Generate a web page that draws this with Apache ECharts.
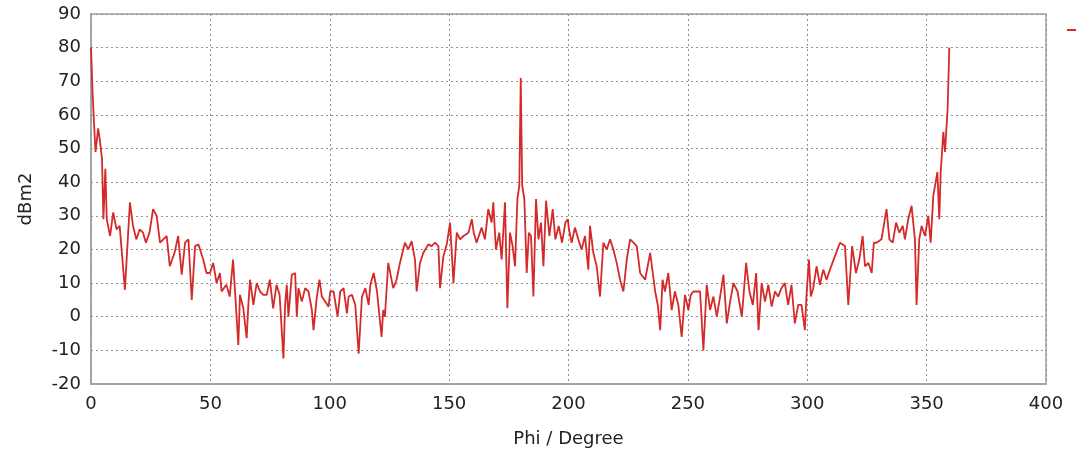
<!DOCTYPE html>
<html>
<head>
<meta charset="utf-8">
<script src="https://cdn.jsdelivr.net/npm/echarts@6/dist/echarts.min.js"></script>
<style>
html,body{margin:0;padding:0;background:#fff;}
#c{width:1085px;height:465px;}
</style>
</head>
<body>
<div id="c"></div>
<script>
const xTicks = [0, 50, 100, 150, 200, 250, 300, 350, 400];
const yTicks = [-20, -10, 0, 10, 20, 30, 40, 50, 60, 70, 80, 90];
const phi = [0,0.7,1.3,1.9,3,3.8,4.6,5.2,6,6.6,8,9.3,10.7,12,14.2,16.3,17.6,19,20.4,21.8,23,24.5,26,27.5,28.9,30.3,31.7,33,35,36.5,38,39.4,40.8,42.2,43.6,45,47,48.4,49.8,51.2,52.6,54,54.7,56.7,58.1,59.5,61.7,62.4,63.8,65.2,65.9,66.6,68,69.4,70.8,72.2,73.6,74.9,76.3,77.7,79,80.6,81.3,82,82.7,84.1,85.5,86.2,86.9,88.3,89.7,91.1,92.5,93.2,94.6,95.7,96.7,98.1,99.5,100.2,101.6,103.3,104.4,105.8,107.2,107.9,109.3,110.7,112.1,113.5,114.9,116.3,117,118.4,119.8,120.5,121.7,122.4,123.1,124.5,126.6,128,129.4,131.5,132.9,134.3,135.7,136.4,137.8,139.2,141.3,142.7,144.1,145.5,146.2,147.6,149,150.4,151.8,153.2,154.6,156,158.1,159.5,160.3,161.5,163.6,165,166.4,167.8,168.5,169.6,171,172,173.4,174.4,175.5,176.6,177.6,178.6,179.4,180,180.6,181.5,182.5,183.4,184.3,185.3,186.4,187.4,188.5,189.5,190.6,192,193.4,194.5,195.9,197.3,198.7,199.7,200.2,201.3,202.7,204.1,205.5,206.9,208.3,209,210.4,211.8,213.2,214.6,216,217.4,218.8,220.2,221.6,223,224.4,225.8,227.2,228.6,230,232.1,234.2,236.3,237.4,238.4,239.4,240.4,241.8,243.2,244.6,246,247.4,248.8,250.2,251.2,252.3,253.7,255.1,256.5,257.9,259.3,260.7,262.1,263.5,264.9,266.3,267.7,269.1,270.8,272.6,274.4,275.8,277.2,278.6,279.6,280.9,282.3,283.7,285.1,286.5,287.8,289.2,290.6,292,293.4,294.8,296.2,297.6,299,299.7,300.7,301.5,302.5,303.9,305.3,306.7,308.1,309.5,311.6,313.7,315.8,317.2,318.8,320.4,321.8,323.2,324.2,325.6,327,327.9,329,331.1,333.2,334.4,335.8,337.2,338.6,340,340.9,342.3,343.7,345.1,345.8,346.9,347.9,349.3,350.7,351.7,352.8,354.5,355.3,355.9,357,357.7,358.8,359.5,360];
const dbm = [80,66,57,49,56,52,47,29,44,29,24,31,26,27,8,34,27,23,26,25,22,25,32,30,22,23,24,15,19,24,12.5,22,23,5,21,21.5,17,13,13,16,10,13,7.5,9.5,6,17,-8.4,6.5,2.5,-6.4,3.5,11,3.5,10,7.5,6.5,6.5,11,2.5,9.5,6.5,-12.4,3.5,9.5,0,12.5,13,0,8.5,4.5,8.5,7.5,2,-4,6,11,6,4.5,3,7.5,7.5,0,7.5,8.5,1,6,6.5,3.5,-11,6,8.5,3.5,9.5,13,7.5,8,-6,2,0,16,8.5,11,16,22,20,22.5,17,7.5,16,19,21.5,21,22,21,8.5,18,21.5,28,10,25,23,24,25,29,25,22,26.5,23,32,28,34,20,25,17,34,2.5,25,21,15,35,39,71,39,35,13,25,24,6,35,23,28,15,34.5,24,32,23,27,22,28,29,26,22,26.5,23,20,24,14,27,19,15,6,22,20,23,20,16,11,7.5,17,23,22,21,13,11,19,7.5,3.5,-4,11,7.5,13,2,7.5,3.5,-6,6.5,2,6.5,7.5,7.5,7.5,-10,9.5,2,6,0,6,12.5,-2,4.5,10,7.5,0,16,7.5,3.5,13,-4,10,4.5,9.5,3,7.5,6,8.5,10,3.5,9.5,-2,3.5,3.5,-4,6.5,17,6,8.5,15,9.5,14,11,14,18,22,21,3.5,21,13,17,24,15,16,13,22,22,23,32,23,22,28,25,27,23,29,33,23,3.5,23,27,24,30,22,36,43,29,43,55,49,62,80];
const seriesName = 'RCS';

const chart = echarts.init(document.getElementById('c'));
const font = 'DejaVu Sans';
chart.setOption({
  animation: false,
  backgroundColor: '#fff',
  legend: {
    show: true,
    left: 1062, top: 24,
    icon: 'rect', itemWidth: 9, itemHeight: 2,
    formatter: function(){ return ''; },
    data: [seriesName]
  },
  grid: {
    left: 91, right: 39, top: 14, bottom: 81,
    show: true, borderColor: '#a0a0a0', borderWidth: 1.5
  },
  xAxis: {
    type: 'value',
    min: xTicks[0], max: xTicks[xTicks.length-1], interval: 50,
    name: 'Phi / Degree', nameLocation: 'middle', nameGap: 46,
    nameTextStyle: {fontFamily: font, fontSize: 18, color: '#222'},
    axisLine: {show: true, onZero: false, lineStyle: {color: '#a0a0a0', width: 1.5}},
    axisTick: {show: false},
    axisLabel: {fontFamily: font, fontSize: 18, color: '#222', margin: 11},
    splitLine: {show: true, lineStyle: {color: '#909090', type: [2, 3], width: 1}}
  },
  yAxis: {
    type: 'value',
    min: yTicks[0], max: yTicks[yTicks.length-1], interval: 10,
    name: 'dBm2', nameLocation: 'middle', nameGap: 56, nameRotate: 90,
    nameTextStyle: {fontFamily: font, fontSize: 18, color: '#222'},
    axisLine: {show: true, onZero: false, lineStyle: {color: '#a0a0a0', width: 1.5}},
    axisTick: {show: false},
    axisLabel: {fontFamily: font, fontSize: 18, color: '#222', margin: 10},
    splitLine: {show: true, lineStyle: {color: '#909090', type: [2, 3], width: 1}}
  },
  series: [{
    name: seriesName,
    type: 'line',
    data: phi.map((p, i) => [p, dbm[i]]),
    showSymbol: false,
    symbol: 'none',
    lineStyle: {color: '#d42a2a', width: 1.8},
    itemStyle: {color: '#d42a2a'}
  }]
});
</script>
</body>
</html>
